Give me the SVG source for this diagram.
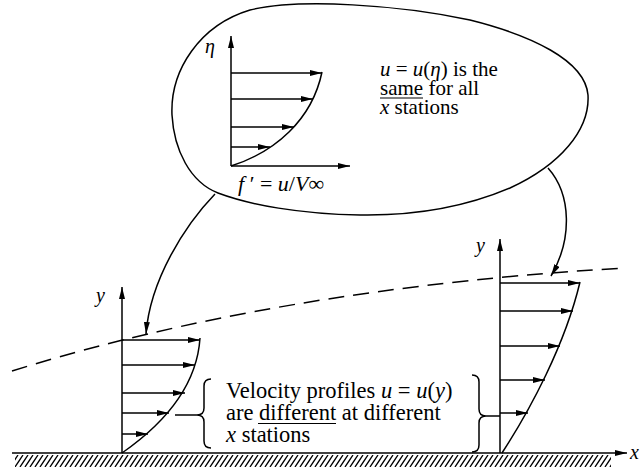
<svg xmlns="http://www.w3.org/2000/svg" width="640" height="473" viewBox="0 0 640 473">
<style>
.ln{fill:none;stroke:#000;stroke-width:1.5}
.ar{fill:none;stroke:#000;stroke-width:1.5;marker-end:url(#ah)}
text{font-family:"Liberation Serif","Times New Roman",serif;fill:#000}
.i{font-style:italic}
.ul{stroke:#000;stroke-width:1.2}
.dash{fill:none;stroke:#000;stroke-width:1.5;stroke-dasharray:16 9}
</style>
<defs>
<marker id="ah" viewBox="0 0 12 6" refX="12" refY="3" markerWidth="12" markerHeight="6" markerUnits="userSpaceOnUse" orient="auto">
<path d="M0,0 L12,3 L0,6 Z" fill="#000"/>
</marker>
<pattern id="hatch" patternUnits="userSpaceOnUse" x="0" y="455" width="5" height="12">
<path d="M-10,12 L-2,0 M-5,12 L3,0 M0,12 L8,0 M5,12 L13,0" stroke="#000" stroke-width="1.3"/>
</pattern>
</defs>

<g id="blob">
<path class="ln" d="M172,115 C170,70 200,25 250,10 C300,-2 400,5 470,20 C530,35 585,60 588,95 C590,130 560,165 510,188 C470,205 420,216 360,215 C300,214 250,205 218,193 C190,182 174,150 172,115 Z"/>
<g id="blob-profile">
<line class="ar" x1="231" y1="166" x2="231" y2="36"/>
<line class="ar" x1="231" y1="166" x2="350" y2="166"/>
<path class="ln" d="M231,166 C275,152 312,120 322,72"/>
<line class="ar" x1="231" y1="73" x2="322" y2="73"/>
<line class="ar" x1="231" y1="99" x2="313" y2="99"/>
<line class="ar" x1="231" y1="127" x2="294" y2="127"/>
<line class="ar" x1="231" y1="147" x2="270" y2="147"/>
<text class="i" x="205" y="53" font-size="20">η</text>
<text x="238" y="191" font-size="22"><tspan class="i">f</tspan> ′ = <tspan class="i">u</tspan>/<tspan class="i">V</tspan>∞</text>
</g>
<text x="380" y="76" font-size="21"><tspan class="i">u</tspan> = <tspan class="i">u</tspan>(<tspan class="i">η</tspan>) is the</text>
<text x="380" y="95" font-size="21">same for all</text>
<line class="ul" x1="380" y1="98" x2="423" y2="98"/>
<text x="380" y="114" font-size="21"><tspan class="i">x</tspan> stations</text>
</g>

<g id="wall">
<rect x="15" y="455" width="596" height="12" fill="url(#hatch)"/>
<line class="ar" x1="12" y1="453" x2="627" y2="453"/>
<text class="i" x="630" y="459" font-size="20">x</text>
</g>

<g id="left-profile">
<line class="ar" x1="122" y1="453" x2="122" y2="287"/>
<text class="i" x="96" y="302" font-size="20">y</text>
<path class="ln" d="M122,453 C165,423 197,385 200,338"/>
<line class="ar" x1="122" y1="340" x2="200" y2="340"/>
<line class="ar" x1="122" y1="365" x2="195" y2="365"/>
<line class="ar" x1="122" y1="393" x2="185" y2="393"/>
<line class="ar" x1="122" y1="413" x2="169" y2="413"/>
<line class="ar" x1="122" y1="434" x2="148" y2="434"/>
</g>

<g id="right-profile">
<line class="ar" x1="500" y1="453" x2="500" y2="239"/>
<text class="i" x="476" y="252" font-size="20">y</text>
<path class="ln" d="M502,453 C530,410 565,345 580,282"/>
<line class="ar" x1="500" y1="283" x2="580" y2="283"/>
<line class="ar" x1="500" y1="311" x2="573" y2="311"/>
<line class="ar" x1="500" y1="346" x2="560" y2="346"/>
<line class="ar" x1="500" y1="380" x2="545" y2="380"/>
<line class="ar" x1="500" y1="413" x2="528" y2="413"/>
</g>

<g id="edge">
<path class="dash" d="M12,371 C130,334 330,285 625,268"/>
</g>

<g id="note">
<path class="ln" d="M211,379 Q204,379 204,386 L204,408 Q204,415 197,415 Q204,415 204,422 L204,441 Q204,448 211,448"/>
<path class="ln" d="M472,375 Q479,375 479,382 L479,409 Q479,416 486,416 Q479,416 479,423 L479,445 Q479,452 472,452"/>
<text x="226" y="398" font-size="22.5">Velocity profiles <tspan class="i">u</tspan> = <tspan class="i">u</tspan>(<tspan class="i">y</tspan>)</text>
<text x="226" y="420" font-size="22.5">are different at different</text>
<line class="ul" x1="258" y1="423.5" x2="336" y2="423.5"/>
<text x="226" y="442" font-size="22.5"><tspan class="i">x</tspan> stations</text>
</g>

<g id="connectors">
<line class="ln" x1="175" y1="415" x2="197" y2="415"/>
<line class="ln" x1="486" y1="416" x2="500" y2="416"/>
<path class="ar" d="M215,194 C185,225 150,280 146,334"/>
<path class="ar" d="M548,168 C572,195 572,240 551,276"/>
</g>
</svg>
